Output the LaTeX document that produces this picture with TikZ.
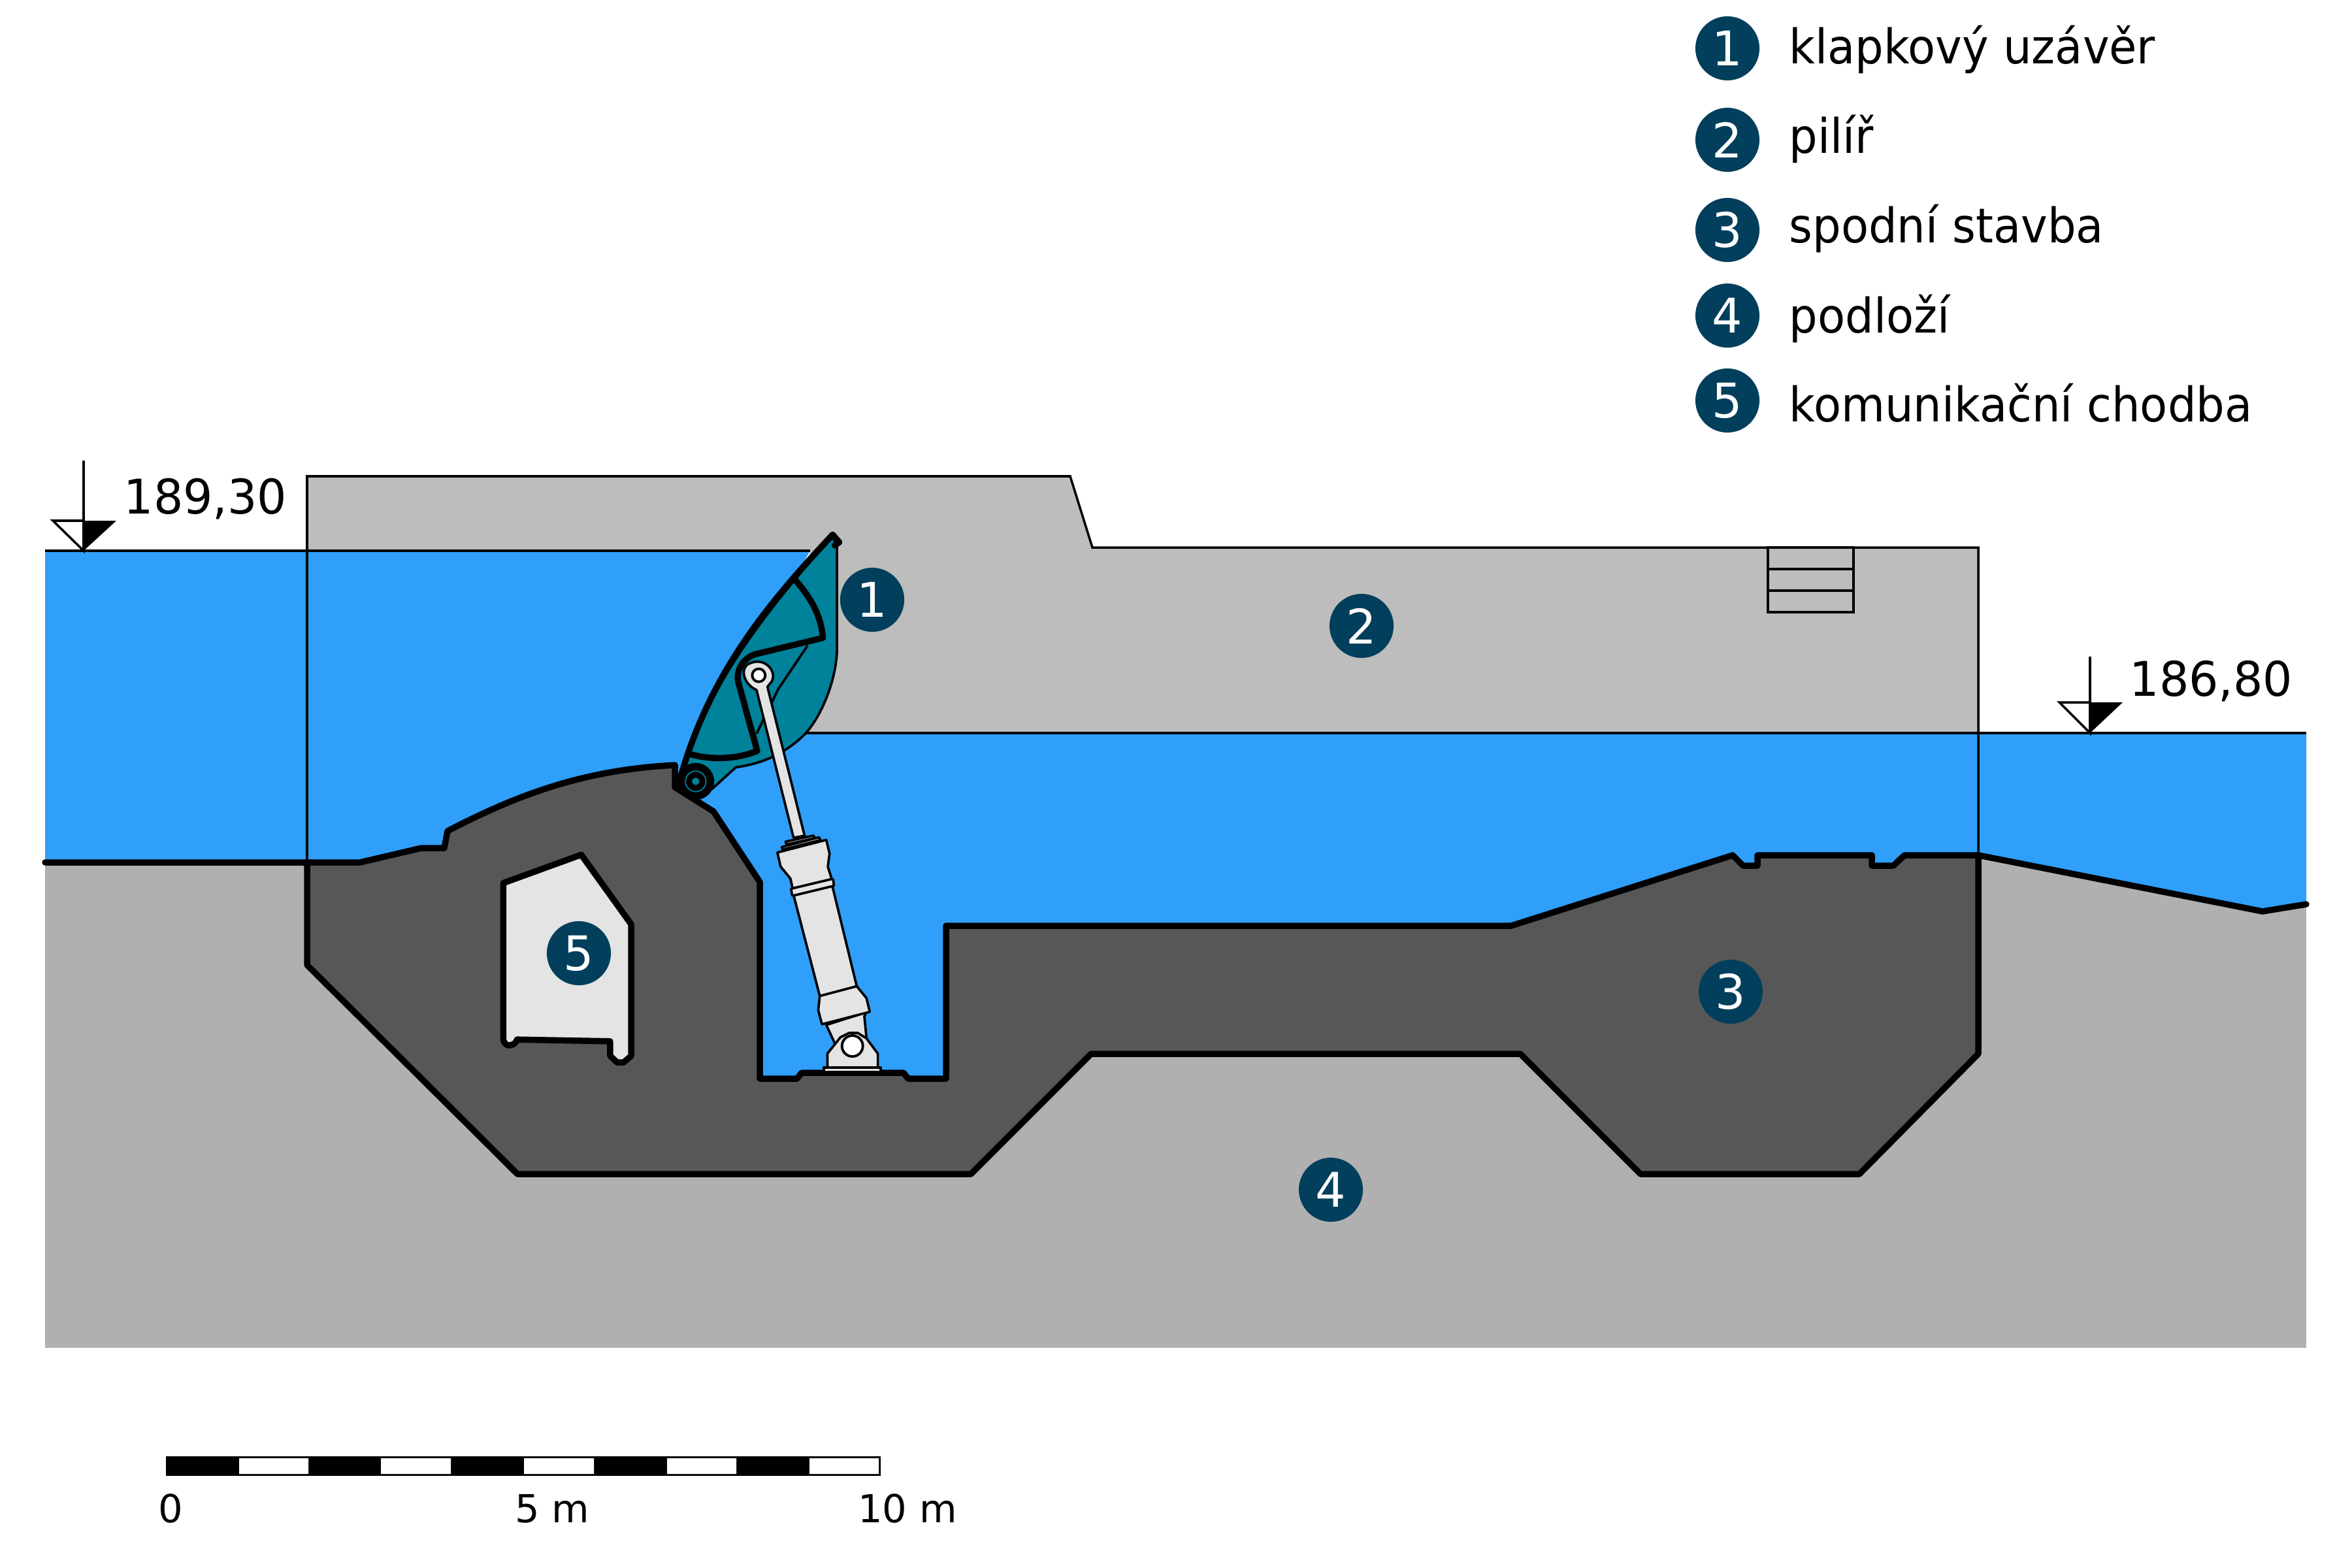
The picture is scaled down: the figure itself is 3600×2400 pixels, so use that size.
\documentclass[tikz,border=0pt]{standalone}
\usepackage{fontspec}
\setmainfont{DejaVu Sans}
\newfontfamily\legendfont[FakeStretch=0.94]{DejaVu Sans}
\newfontfamily\levelfont[FakeStretch=0.975]{DejaVu Sans}
\definecolor{rock}{HTML}{B0B0B0}
\definecolor{pier}{HTML}{BDBDBD}
\definecolor{dark}{HTML}{575757}
\definecolor{water}{HTML}{2F9FFA}
\definecolor{teal1}{HTML}{00829B}
\definecolor{light}{HTML}{E4E4E4}
\definecolor{mark}{HTML}{023F5C}
\tikzset{
  thickline/.style={line width=2.7pt,line join=round,line cap=round},
  thinline/.style={line width=1pt,line join=miter},
  partline/.style={line width=1.05pt,line join=round},
  badge/.style={circle,fill=mark,text=white,minimum size=27.9pt,inner sep=0pt,font=\fontsize{20.8pt}{24pt}\selectfont},
  legendtext/.style={anchor=base west,inner sep=0pt,font=\legendfont\fontsize{20.8pt}{24pt}\selectfont},
  leveltext/.style={anchor=base west,inner sep=0pt,font=\levelfont\fontsize{20.8pt}{24pt}\selectfont},
  scaletext/.style={anchor=base,inner sep=0pt,font=\fontsize{16.8pt}{20pt}\selectfont},
  zoomA/.style={shift={(950,780)},x=0.003333cm,y=-0.003333cm},
  zoomB/.style={shift={(1100,1200)},x=0.003333cm,y=-0.003333cm},
  zoomC/.style={shift={(640,1260)},x=0.003333cm,y=-0.003333cm},
}
\begin{document}
\begin{tikzpicture}[x=0.01cm,y=-0.01cm]
\useasboundingbox (0,0) rectangle (3600,2400);
\fill[white] (0,0) rectangle (3600,2400);
% bedrock
\fill[rock] (69,1300) rectangle (3530,2063);
% water upstream
\fill[water] (69,843) -- (1240,843) -- (1040,1200) -- (1040,1320) -- (69,1320) -- cycle;
% water downstream
\fill[water] (1150,1122) -- (3530,1122) -- (3530,1384) -- (3463,1395) -- (3028,1309) -- (3020,1340) -- (2640,1340) -- (2313,1425) -- (1455,1425) -- (1455,1660) -- (1060,1660) -- (1060,1200) -- cycle;
% pier
\fill[pier] (470,729) -- (1638,729) -- (1672,838) -- (3028,838) -- (3028,1122) -- (1200,1122) -- (1240,843) -- (470,843) -- cycle;
\draw[thinline] (69,843) -- (1240,843);
\draw[thinline] (1220,1122) -- (3530,1122);
\draw[thinline] (470,1320) -- (470,729) -- (1638,729) -- (1672,838) -- (3028,838) -- (3028,1309);
% stair box
\draw[thinline] (2706,838) rectangle (2837,937) (2706,871) -- (2837,871) (2706,904) -- (2837,904);
% substructure
\fill[dark] (470,1320) -- (551,1320) -- (645,1298) -- (680,1298) -- (685,1272)
  .. controls (800,1212) and (900,1178) .. (1033,1171) -- (1033,1205) -- (1092,1242) -- (1163,1350) -- (1163,1651)
  -- (1220,1651) -- (1227,1642) -- (1383,1642) -- (1390,1651) -- (1448,1651) -- (1448,1417) -- (2313,1417) -- (2652,1309)
  -- (2668,1325) -- (2690,1325) -- (2690,1309) -- (2865,1309) -- (2865,1325) -- (2898,1325) -- (2915,1309) -- (3028,1309)
  -- (3028,1613) -- (2846,1797) -- (2511,1797) -- (2327,1613) -- (1670,1613) -- (1486,1797) -- (792,1797) -- (470,1477) -- cycle;
% outline of the substructure and the terrain
\draw[thickline] (69,1320) -- (551,1320) -- (645,1298) -- (680,1298) -- (685,1272)
  .. controls (800,1212) and (900,1178) .. (1033,1171) -- (1033,1205) -- (1092,1242) -- (1163,1350) -- (1163,1651)
  -- (1220,1651) -- (1227,1642) -- (1383,1642) -- (1390,1651) -- (1448,1651) -- (1448,1417) -- (2313,1417) -- (2652,1309)
  -- (2668,1325) -- (2690,1325) -- (2690,1309) -- (2865,1309) -- (2865,1325) -- (2898,1325) -- (2915,1309) -- (3028,1309)
  -- (3463,1395) -- (3530,1384);
\draw[thickline] (3028,1309) -- (3028,1613) -- (2846,1797) -- (2511,1797) -- (2327,1613) -- (1670,1613) -- (1486,1797) -- (792,1797) -- (470,1477) -- (470,1320);
% gallery
\begin{scope}[zoomC]
\draw[thickline,fill=light] (392,275) -- (750,145) -- (980,465) -- (980,1070) -- (945,1100) -- (915,1100) -- (883,1070) -- (883,1003) -- (455,995)
  .. controls (450,1020) and (400,1040) .. (392,995) -- cycle;
\end{scope}
% gate
\begin{scope}[zoomA]
\filldraw[fill=teal1,partline] (975,125) -- (995,170) -- (995,650) .. controls (990,780) and (930,940) .. (850,1030)
  .. controls (750,1130) and (640,1170) .. (530,1185) -- (420,1285) -- (265,1270)
  .. controls (330,1000) and (500,640) .. (975,125) -- cycle;
\draw[partline] (860,625) -- (725,825) -- (625,1030);
\fill (345,1250) circle (85);
\draw[teal1,line width=0.5pt] (345,1250) circle (47);
\fill[teal1] (345,1250) circle (17);
\draw[thickline] (1005,150) -- (975,115) .. controls (700,410) and (400,750) .. (265,1270);
\draw[thickline] (1005,150) -- (985,165);
\draw[thickline,line cap=butt] (800,320) .. controls (860,390) and (920,470) .. (930,590) -- (620,665)
  .. controls (570,680) and (530,730) .. (540,790) -- (628,1110) .. controls (540,1145) and (430,1155) .. (320,1125);
% piston rod and eye
\filldraw[fill=light,partline] (625,830) .. controls (560,800) and (545,720) .. (600,705)
  .. controls (660,680) and (720,740) .. (695,790) -- (675,815) -- (846,1500) -- (795,1509) -- cycle;
\filldraw[fill=white,line width=1.1pt] (635,762) circle (30);
\end{scope}
\begin{scope}[zoomB]
\filldraw[fill=light,partline] (308,265) -- (437,237) -- (440,250) -- (312,278) -- cycle;
\filldraw[fill=light,partline] (290,290) -- (462,245) -- (468,258) -- (295,302) -- cycle;
% clevis tail
\filldraw[fill=light,partline] (495,1108) -- (535,1195) -- (680,1170) -- (670,1070) -- (678,1050) -- cycle;
% main tube
\filldraw[fill=light,partline] (270,315) -- (495,257) -- (510,320) -- (502,380) -- (520,437) -- (527,440) -- (530,468) -- (523,470) -- (635,930)
  -- (680,985) -- (695,1048) -- (475,1105) -- (458,1040) -- (465,975) -- (345,513) -- (338,513) -- (333,483) -- (340,480) -- (330,435) -- (285,380) -- cycle;
\draw[partline] (340,480) -- (520,437) (345,513) -- (523,470) (465,975) -- (635,930);
% mount
\filldraw[fill=light,partline] (500,1305) -- (500,1240) -- (560,1165) -- (600,1145) -- (640,1145) -- (680,1170) -- (732,1240) -- (732,1305) -- cycle;
\filldraw[fill=white,line width=1.1pt] (615,1205) circle (48);
\fill (440,1318) rectangle (790,1340);
\filldraw[fill=light,partline] (483,1305) rectangle (745,1325);
\end{scope}
% level marks
\coordinate (la) at (128,843);
\draw[thinline,fill=white] (la) -- (81,797) -- (128,797) -- cycle;
\fill (la) -- (178,797) -- (128,797) -- cycle;
\draw[thinline] (128,705) -- (128,843);
\node[leveltext] (levela) at (189,786) {189,30};
\coordinate (lb) at (3199,1122);
\draw[thinline,fill=white] (lb) -- (3152,1075) -- (3199,1075) -- cycle;
\fill (lb) -- (3249,1075) -- (3199,1075) -- cycle;
\draw[thinline] (3199,1005) -- (3199,1122);
\node[leveltext] (levelb) at (3259,1065) {186,80};
% badges
\node[badge] (b1) at (1335,918) {1};
\node[badge] (b2) at (2084,958) {2};
\node[badge] (b3) at (2649,1518) {3};
\node[badge] (b4) at (2037,1821) {4};
\node[badge] (b5) at (886,1459) {5};
% legend
\node[badge] (l1) at (2644,74) {1};
\node[badge] (l2) at (2644,214) {2};
\node[badge] (l3) at (2644,352) {3};
\node[badge] (l4) at (2644,483) {4};
\node[badge] (l5) at (2644,613) {5};
\node[legendtext] (t1) at (2738,98) {klapkový uzávěr};
\node[legendtext] (t2) at (2738,235) {pilíř};
\node[legendtext] (t3) at (2738,371) {spodní stavba};
\node[legendtext] (t4) at (2738,509) {podloží};
\node[legendtext] (t5) at (2738,645) {komunikační chodba};
% scale bar
\fill (254,2229) rectangle (1348,2259);
\fill[white] (366,2232) rectangle (472,2256) (583,2232) rectangle (690,2256) (802,2232) rectangle (909,2256) (1021,2232) rectangle (1127,2256) (1239,2232) rectangle (1345,2256);
\node[scaletext] (s0) at (261,2330) {0};
\node[scaletext] (s5) at (845,2330) {5 m};
\node[scaletext] (s10) at (1389,2330) {10 m};
\end{tikzpicture}
\end{document}
